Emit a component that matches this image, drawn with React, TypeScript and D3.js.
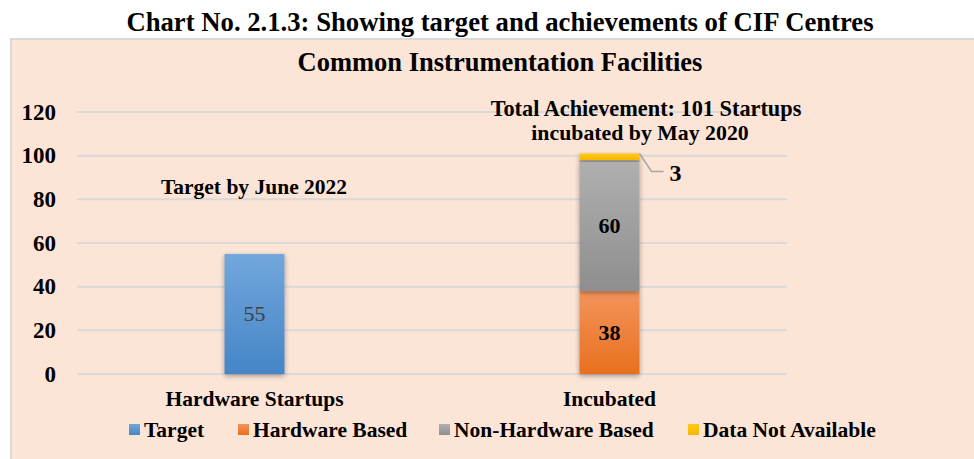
import React from "react";
import * as d3 from "d3";

const categories = ["Hardware Startups", "Incubated"];
const seriesNames = ["Target", "Hardware Based", "Non-Hardware Based", "Data Not Available"];
const targetValues = [55, 0];
const hardwareBasedValues = [0, 38];
const nonHardwareValues = [0, 60];
const dataNotAvailableValues = [0, 3];
const yTicks = [0, 20, 40, 60, 80, 100, 120];

const colorsTop = ["#72A7DC", "#F4945C", "#B0B0B0", "#FFC81A"];
const colorsBottom = ["#4585C6", "#E8701E", "#8E8E8E", "#F5B800"];

const W = 974;
const H = 459;
const FONT = "'Liberation Serif', 'Times New Roman', serif";

export default function App() {
  const plotLeft = 77;
  const plotRight = 787;
  const plotTop = 112;
  const plotBottom = 374;

  const x = d3.scaleBand<string>().domain(categories).range([plotLeft, plotRight]).paddingInner(0).paddingOuter(0);
  const y = d3.scaleLinear().domain([0, 120]).range([plotBottom, plotTop]);
  const barW = 60;

  const rows = categories.map((c, i) => ({
    cat: c,
    "Target": targetValues[i],
    "Hardware Based": hardwareBasedValues[i],
    "Non-Hardware Based": nonHardwareValues[i],
    "Data Not Available": dataNotAvailableValues[i],
  }));
  const stack = d3.stack<any>().keys(seriesNames);
  const stacked = stack(rows);

  const legendX = [129, 238, 439, 688];

  return (
    <svg width={W} height={H} style={{ position: "absolute", left: 0, top: 0 }} fontFamily={FONT}>
      <defs>
        {seriesNames.map((s, i) => (
          <linearGradient key={s} id={`g${i}`} x1="0" y1="0" x2="0" y2="1">
            <stop offset="0%" stopColor={colorsTop[i]} />
            <stop offset="100%" stopColor={colorsBottom[i]} />
          </linearGradient>
        ))}
        <filter id="shadow" x="-30%" y="-10%" width="160%" height="130%">
          <feDropShadow dx="0" dy="2" stdDeviation="2.5" floodColor="#000" floodOpacity="0.35" />
        </filter>
      </defs>
      <rect x={0} y={0} width={W} height={H} fill="#ffffff" />
      <rect x={11} y={39} width={W} height={H} fill="#FCE4D6" stroke="#D9D9D9" strokeWidth={2} />

      <text x={500} y={31} textAnchor="middle" fontSize={26.7} fontWeight="bold" fill="#000">
        Chart No. 2.1.3: Showing target and achievements of CIF Centres
      </text>
      <text x={500} y={71} textAnchor="middle" fontSize={26.5} fontWeight="bold" fill="#000">
        Common Instrumentation Facilities
      </text>

      {yTicks.map((t) => (
        <g key={t}>
          <line x1={plotLeft} x2={plotRight} y1={y(t)} y2={y(t)} stroke="#D9D9D9" strokeWidth={2} />
          <text x={56} y={y(t) + 7.5} textAnchor="end" fontSize={23} fontWeight="bold" fill="#000">
            {t}
          </text>
        </g>
      ))}

      {stacked.map((layer, si) => (
        <g key={layer.key}>
          {layer.map((d, ci) => {
            const v = d[1] - d[0];
            if (v <= 0) return null;
            const cx = (x(categories[ci]) as number) + x.bandwidth() / 2;
            return (
              <rect
                key={ci}
                x={cx - barW / 2}
                y={y(d[1])}
                width={barW}
                height={y(d[0]) - y(d[1])}
                fill={`url(#g${si})`}
                filter="url(#shadow)"
              />
            );
          })}
        </g>
      ))}

      {stacked.map((layer, si) => (
        <g key={"l" + layer.key}>
          {layer.map((d, ci) => {
            const v = d[1] - d[0];
            if (v <= 0) return null;
            const cx = (x(categories[ci]) as number) + x.bandwidth() / 2;
            if (layer.key === "Data Not Available") {
              const x0 = cx + barW / 2;
              const y0 = y(d[1]);
              return (
                <g key={ci}>
                  <polyline
                    points={`${x0},${y0} ${x0 + 12},${y0 + 18} ${x0 + 24},${y0 + 18}`}
                    fill="none"
                    stroke="#A6A6A6"
                    strokeWidth={1.5}
                  />
                  <text x={x0 + 36} y={y0 + 28} textAnchor="middle" fontSize={24} fontWeight="bold" fill="#000">
                    {v}
                  </text>
                </g>
              );
            }
            const isTarget = layer.key === "Target";
            return (
              <text
                key={ci}
                x={cx}
                y={(y(d[0]) + y(d[1])) / 2 + 7.5}
                textAnchor="middle"
                fontSize={22}
                fontWeight={isTarget ? "normal" : "bold"}
                fill={isTarget ? "#404040" : "#000"}
              >
                {v}
              </text>
            );
          })}
        </g>
      ))}

      <text x={254} y={194} textAnchor="middle" fontSize={21.5} fontWeight="bold" fill="#000">
        Target by June 2022
      </text>
      <text x={646} y={116} textAnchor="middle" fontSize={22.3} fontWeight="bold" fill="#000">
        Total Achievement: 101 Startups
      </text>
      <text x={640} y={140} textAnchor="middle" fontSize={21.8} fontWeight="bold" fill="#000">
        incubated by May 2020
      </text>

      {categories.map((c) => (
        <text
          key={c}
          x={(x(c) as number) + x.bandwidth() / 2}
          y={406}
          textAnchor="middle"
          fontSize={21.5}
          fontWeight="bold"
          fill="#000"
        >
          {c}
        </text>
      ))}

      {seriesNames.map((s, i) => (
        <g key={s}>
          <rect x={legendX[i]} y={424} width={11} height={11} fill={`url(#g${i})`} />
          <text x={legendX[i] + 15} y={437} fontSize={21.5} fontWeight="bold" fill="#000">
            {s}
          </text>
        </g>
      ))}
    </svg>
  );
}
